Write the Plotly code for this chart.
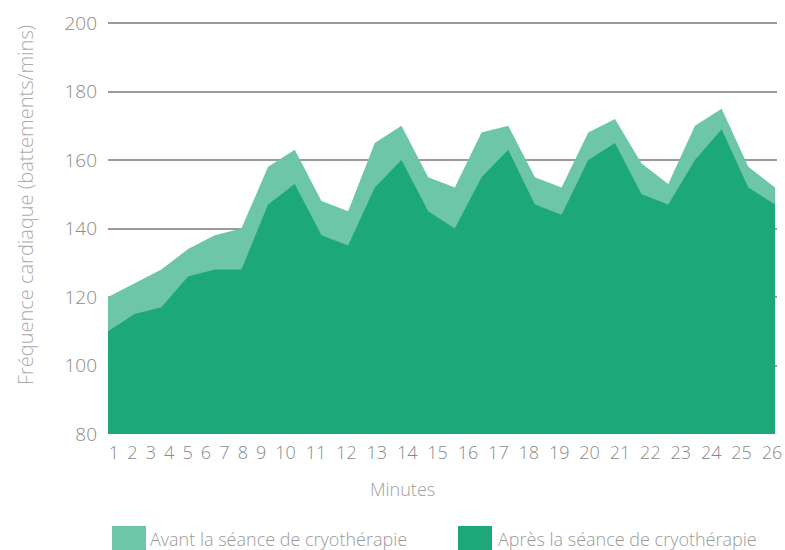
import plotly.graph_objects as go

# ---- data ----
minutes = list(range(1, 27))
tick_labels = [str(m) for m in minutes]
avant = [120, 124, 128, 134, 138, 140, 158, 163, 148, 145, 165, 170, 155,
         152, 168, 170, 155, 152, 168, 172, 159, 153, 170, 175, 158, 152]
apres = [110, 115, 117, 126, 128, 128, 147, 153, 138, 135, 152, 160, 145,
         140, 155, 163, 147, 144, 160, 165, 150, 147, 160, 169, 152, 147]
y_ticks = [80, 100, 120, 140, 160, 180, 200]
series_names = ["Avant la séance de cryothérapie", "Après la séance de cryothérapie"]

# ---- styling ----
LIGHT = "#6dc6a8"
DARK = "#1da87a"
FONT = "Open Sans"
W, H = 785, 550
# plot area in page pixels
P_LEFT, P_RIGHT, P_TOP, P_BOTTOM = 108, 777, 20, 434
ML, MT = P_LEFT, P_TOP
MR, MB = W - P_RIGHT, H - P_BOTTOM
PLOT_W = P_RIGHT - P_LEFT
PLOT_H = P_BOTTOM - P_TOP
PX_PER_UNIT = 26.68
X_MAX = minutes[0] + PLOT_W / PX_PER_UNIT
Y_PX_PER_UNIT = (434 - 23) / 120.0
Y_MAX = 80 + PLOT_H / Y_PX_PER_UNIT

# tick labels are laid out like a flowing text row (narrow single digits)
CHAR_W, GAP, FIRST_OFF = 12.0, 6.4, 6.0
centers = []
pos = FIRST_OFF
prev_w = None
for lab in tick_labels:
    w = len(lab) * CHAR_W
    if prev_w is not None:
        pos += prev_w / 2 + GAP + w / 2
    centers.append(pos)
    prev_w = w
tick_vals = [minutes[0] + c / PX_PER_UNIT for c in centers]

fig = go.Figure()
fig.add_trace(go.Scatter(x=minutes, y=avant, name=series_names[0], mode="lines",
                         fill="tozeroy", fillcolor=LIGHT, line=dict(width=0, color=LIGHT),
                         showlegend=False, hoverinfo="skip"))
fig.add_trace(go.Scatter(x=minutes, y=apres, name=series_names[1], mode="lines",
                         fill="tozeroy", fillcolor=DARK, line=dict(width=0, color=DARK),
                         showlegend=False, hoverinfo="skip"))

def px_x(p):
    return (p - P_LEFT) / PLOT_W

def px_y(p):
    return (P_BOTTOM - p) / PLOT_H

# custom legend
legend_items = [(112, 146, 148, LIGHT, series_names[0]), (458, 492, 496, DARK, series_names[1])]
for x0, x1, tx, col, name in legend_items:
    fig.add_shape(type="rect", xref="paper", yref="paper",
                  x0=px_x(x0), x1=px_x(x1), y0=px_y(526), y1=px_y(552),
                  fillcolor=col, line=dict(width=0), layer="above")
    fig.add_annotation(xref="paper", yref="paper", x=px_x(tx), y=px_y(539),
                       text=name, showarrow=False, xanchor="left", yanchor="middle",
                       font=dict(family=FONT, size=18, color="#9a9a9a", weight=300))

fig.add_annotation(xref="paper", yref="paper", x=px_x(402), y=px_y(489), text="Minutes",
                   showarrow=False, xanchor="center", yanchor="middle",
                   font=dict(family=FONT, size=18, color="#a0a0a0", weight=300))
fig.add_annotation(xref="paper", yref="paper", x=px_x(25), y=px_y(205),
                   text="Fréquence cardiaque (battements/mins)", textangle=-90,
                   showarrow=False, xanchor="center", yanchor="middle",
                   font=dict(family=FONT, size=20, color="#ababab", weight=300))

fig.update_layout(
    width=W, height=H,
    margin=dict(l=ML, r=MR, t=MT, b=MB, pad=0),
    plot_bgcolor="white", paper_bgcolor="white",
    hovermode=False,
    xaxis=dict(range=[minutes[0], X_MAX], tickvals=tick_vals, ticktext=tick_labels,
               showgrid=False, zeroline=False, showline=False, ticks="",
               automargin=False, ticklabelstandoff=6,
               tickfont=dict(family=FONT, size=18, color="#8a8a8a", weight=300)),
    yaxis=dict(range=[80, Y_MAX], tickvals=y_ticks, showgrid=True, gridcolor="#9a9a9a",
               gridwidth=2, zeroline=False, showline=False, ticks="",
               automargin=False, ticklabelstandoff=10,
               tickfont=dict(family=FONT, size=19, color="#8a8a8a", weight=300)),
)

fig.write_html("out.html", config={"displayModeBar": False},
               post_script="document.body.style.margin='0px';")
